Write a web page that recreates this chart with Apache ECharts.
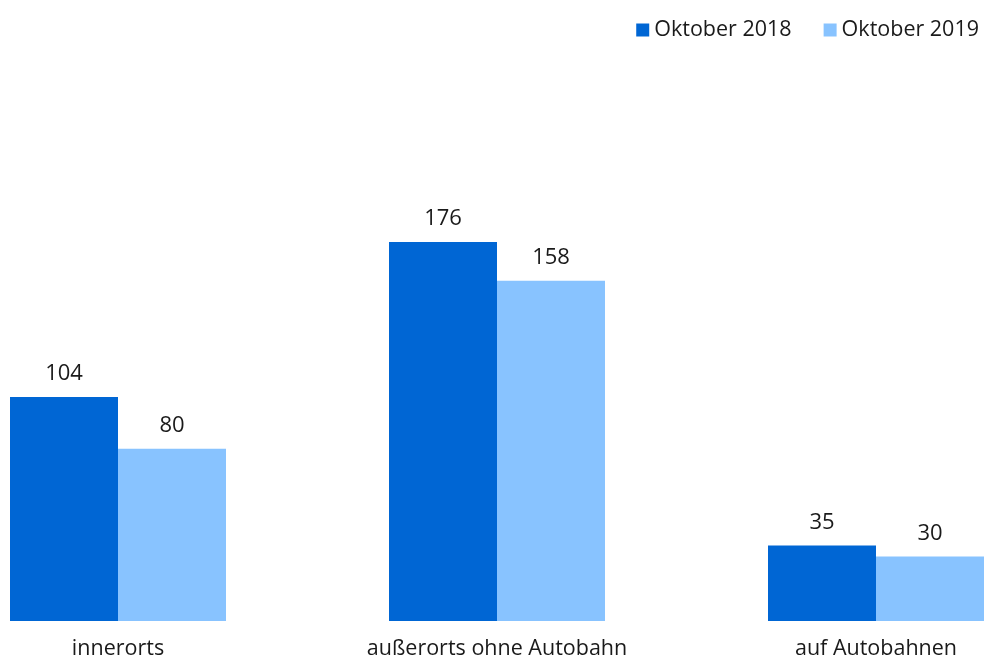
<!DOCTYPE html>
<html>
<head>
<meta charset="utf-8">
<script src="https://cdn.jsdelivr.net/npm/echarts@6/dist/echarts.min.js"></script>
<style>
  html, body { margin: 0; padding: 0; background: #fff; }
  #main { width: 984px; height: 662px; }
</style>
</head>
<body>
<div id="main"></div>
<script>
var myChart = echarts.init(document.getElementById('main'));

// Kategorien und Werte
var categories = ['innerorts', 'außerorts ohne Autobahn', 'auf Autobahnen'];
var seriesNames = ['Oktober 2018', 'Oktober 2019'];
var values2018 = [104, 176, 35];
var values2019 = [80, 158, 30];

var fontName = '"Open Sans", "Noto Sans", sans-serif';

var labelStyle = {
    show: true,
    position: 'top',
    distance: 12,
    color: '#1a1a1a',
    fontSize: 22,
    fontFamily: fontName
};

var option = {
    animation: false,
    legend: {
        data: seriesNames,
        right: 0,
        top: 14,
        itemWidth: 13,
        itemHeight: 13,
        itemGap: 32,
        itemTextGap: 6,
        icon: 'rect',
        textStyle: {
            fontSize: 21.5,
            fontFamily: fontName,
            color: '#1a1a1a'
        }
    },
    grid: {
        left: 118,
        right: 108,
        top: 82.6,
        bottom: 41,
        containLabel: false
    },
    xAxis: {
        type: 'category',
        data: categories,
        boundaryGap: false,
        axisLine: { show: false },
        axisTick: { show: false },
        axisLabel: {
            fontSize: 21.5,
            fontFamily: fontName,
            color: '#1a1a1a',
            margin: 17
        }
    },
    yAxis: {
        type: 'value',
        min: 0,
        max: 250,
        show: false,
        splitLine: { show: false }
    },
    series: [
        {
            name: seriesNames[0],
            type: 'bar',
            data: values2018,
            barWidth: 108,
            barGap: '0%',
            clip: false,
            itemStyle: { color: '#0066d4' },
            label: labelStyle
        },
        {
            name: seriesNames[1],
            type: 'bar',
            data: values2019,
            barWidth: 108,
            barGap: '0%',
            clip: false,
            itemStyle: { color: '#88c3ff' },
            label: labelStyle
        }
    ]
};
myChart.setOption(option);
</script>
</body>
</html>
